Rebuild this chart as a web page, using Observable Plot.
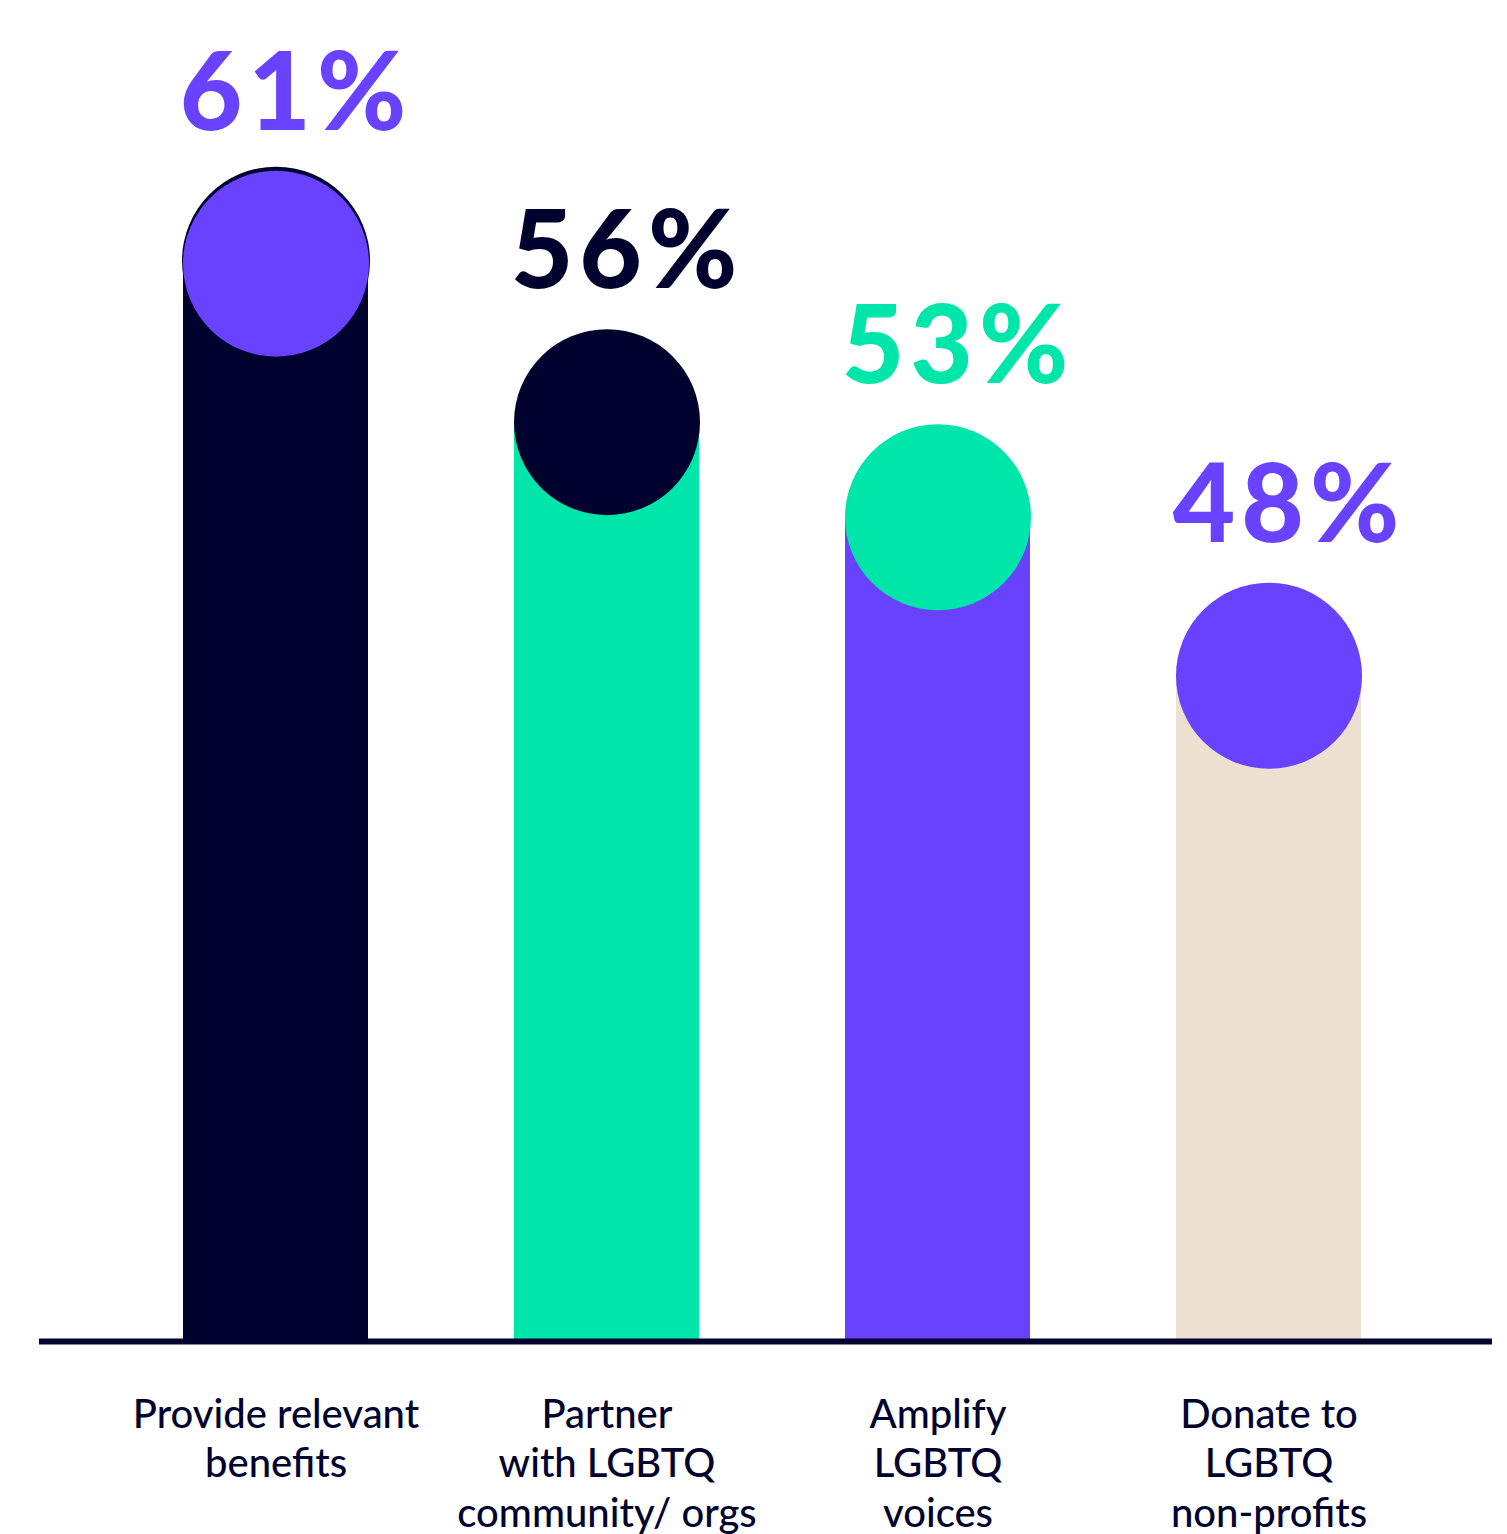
<!DOCTYPE html>
<html>
<head>
<meta charset="utf-8">
<script src="https://cdn.jsdelivr.net/npm/d3@7"></script>
<script src="https://cdn.jsdelivr.net/npm/@observablehq/plot@0.6"></script>
<style>
  html, body { margin: 0; padding: 0; background: #ffffff; }
  #chart svg { display: block; overflow: visible; }
  #chart g[font-size="108"] text { letter-spacing: 6px; }
</style>
</head>
<body>
<div id="chart"></div>
<script>
// ---- data ----
const categories = [
  "Provide relevant\nbenefits",
  "Partner\nwith LGBTQ\ncommunity/ orgs",
  "Amplify\nLGBTQ\nvoices",
  "Donate to\nLGBTQ\nnon-profits"
];
const values = [61, 56, 53, 48];
const bodyColors = ["#02022F", "#00E6AA", "#6842FF", "#ECE1D0"];
const capColors = ["#6842FF", "#02022F", "#00E6AA", "#6842FF"];
const labelColors = ["#6842FF", "#02022F", "#00E6AA", "#6842FF"];

// ---- chart ----
const Y0 = 27;
const data = categories.map((c, i) => ({
  category: c,
  value: values[i],
  body: bodyColors[i],
  cap: capColors[i],
  labelColor: labelColors[i],
  label: values[i] + "%"
}));

const navy = "#02022F";

const chart = Plot.plot({
  width: 1507,
  height: 1534,
  marginTop: 0,
  marginBottom: 193,
  marginLeft: 46,
  marginRight: 9,
  style: { fontFamily: "Lato, 'Open Sans', sans-serif", background: "#ffffff", overflow: "visible" },
  x: { domain: categories, paddingInner: 0.44, paddingOuter: 0.41, axis: null },
  y: { domain: [Y0, 69.3], axis: null },
  marks: [
    Plot.barY(data, { x: "category", y1: () => Y0, y2: "value", fill: "body" }),
    Plot.dot(data.slice(0, 1), { x: "category", y: "value", r: 94, dy: -3, fill: "body", stroke: "none" }),
    Plot.dot(data, { x: "category", y: "value", r: 93, fill: "cap", stroke: "none" }),
    Plot.text(data, {
      x: "category", y: "value", text: "label", fill: "labelColor",
      lineAnchor: "bottom", dy: -134, dx: 20,
      fontSize: 108, fontWeight: 900
    }),
    Plot.ruleY([Y0], { stroke: navy, strokeWidth: 6, insetLeft: -7, insetRight: 6 }),
    Plot.text(data, {
      x: "category", y: () => Y0, text: "category", fill: navy,
      lineAnchor: "top", dy: 51, fontSize: 40, lineHeight: 1.24, fontWeight: 500
    })
  ]
});

document.getElementById("chart").appendChild(chart);
</script>
</body>
</html>
